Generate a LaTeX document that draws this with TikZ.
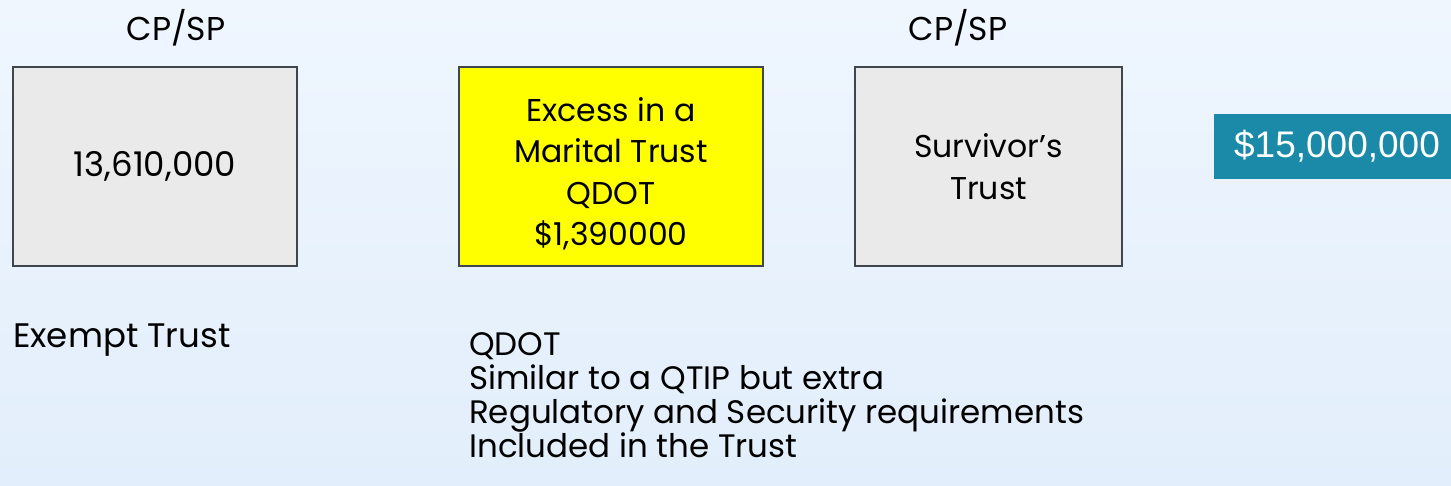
\documentclass[tikz,border=0pt]{standalone}
\usepackage{fontspec}
\setmainfont{Poppins}
\newfontfamily\arialfont{Liberation Sans}
\definecolor{bgtop}{HTML}{EFF6FE}
\definecolor{bgbot}{HTML}{E2EEFB}
\definecolor{boxgray}{HTML}{EAEAEA}
\definecolor{boxline}{HTML}{3F464D}
\definecolor{qyellow}{HTML}{FFFF00}
\definecolor{teal}{HTML}{1B8AA8}
\tikzset{
  trustbox/.style={draw=boxline, line width=1.5pt, fill=boxgray, inner sep=0pt,
    minimum height=199pt, align=center, font=\fontsize{31.5}{41.5}\selectfont},
  toplabel/.style={inner sep=0pt, font=\fontsize{33}{34}\selectfont},
  note/.style={inner sep=0pt, align=left, anchor=north west, font=\fontsize{32.5}{34}\selectfont},
  sumbox/.style={fill=teal, text=white, inner sep=0pt, minimum width=246pt, minimum height=65pt,
    font=\arialfont\fontsize{37}{40}\selectfont}
}
\begin{document}
\begin{tikzpicture}[x=1pt,y=-1pt]
\useasboundingbox (0,0) rectangle (1451,485);
\clip (0,0) rectangle (1451,485);
\shade[top color=bgtop, bottom color=bgbot] (0,0) rectangle (1451,485);
\node[toplabel] (cp1) at (176,28) {CP/SP};
\node[toplabel] (cp2) at (958,28) {CP/SP};
\node[trustbox, minimum width=284pt, font=\fontsize{34}{41.5}\selectfont] (exempt) at (155,166.5) {13,610,000};
\node[trustbox, fill=qyellow, minimum width=304pt] (marital) at (611,166.5) {};
\node[align=center, inner sep=0pt, font=\fontsize{31.5}{41.5}\selectfont] (maritaltext) at (611,174) {Excess in a\\Marital Trust\\QDOT\\\$1,390000};
\node[trustbox, minimum width=267pt] (survivor) at (988.5,166.5) {Survivor’s\\Trust};
\node[sumbox] (total) at (1337,146.5) {\$15,000,000};
\node[note, font=\fontsize{34}{34}\selectfont] (exlabel) at (13,324) {Exempt Trust};
\node[note] (qdot) at (469,332) {QDOT\\Similar to a QTIP but extra\\Regulatory and Security requirements\\Included in the Trust};
\end{tikzpicture}
\end{document}
